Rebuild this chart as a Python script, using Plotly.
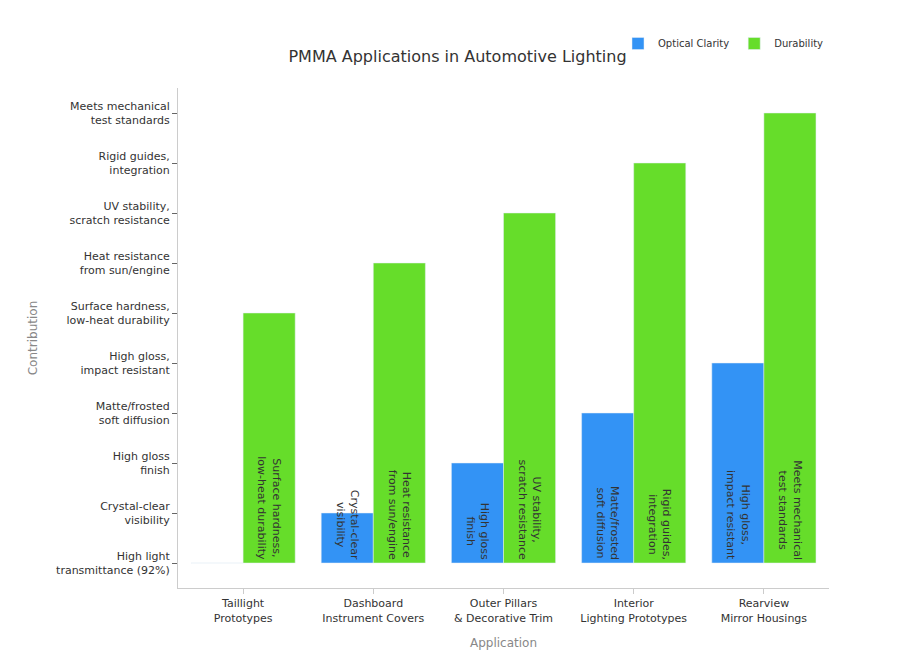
import plotly.graph_objects as go

levels = ["High light<br>transmittance (92%)", "Crystal-clear<br>visibility", "High gloss<br>finish",
          "Matte/frosted<br>soft diffusion", "High gloss,<br>impact resistant", "Surface hardness,<br>low-heat durability",
          "Heat resistance<br>from sun/engine", "UV stability,<br>scratch resistance", "Rigid guides,<br>integration",
          "Meets mechanical<br>test standards"]
apps = ["Taillight<br>Prototypes", "Dashboard<br>Instrument Covers", "Outer Pillars<br>& Decorative Trim",
        "Interior<br>Lighting Prototypes", "Rearview<br>Mirror Housings"]
optical = [levels[0], levels[1], levels[2], levels[3], levels[4]]
durability = [levels[5], levels[6], levels[7], levels[8], levels[9]]

fig = go.Figure()
fig.add_bar(x=apps, y=optical, name="Optical Clarity", marker_color="#3393f5",
            text=optical, textposition="inside", insidetextanchor="start", textangle=90,
            textfont=dict(color="#333", size=11))
fig.add_bar(x=apps, y=durability, name="Durability", marker_color="#66dd2a",
            text=durability, textposition="inside", insidetextanchor="start", textangle=90,
            textfont=dict(color="#333", size=11))
fig.update_layout(
    width=899, height=652, barmode="group", bargap=0.2, bargroupgap=0.0,
    paper_bgcolor="white", plot_bgcolor="white",
    font=dict(family="DejaVu Sans", color="#333", size=11),
    title=dict(text="PMMA Applications in Automotive Lighting", x=0.5, y=0.935, font=dict(size=16)),
    margin=dict(l=170, r=78, t=80, b=70),
    legend=dict(orientation="h", x=1, xanchor="right", y=1.06, yanchor="bottom", font=dict(size=10)),
    xaxis=dict(title=dict(text="Application", font=dict(color="#888", size=12)), showline=True,
               linecolor="#ccc", ticks="outside", tickcolor="#ccc"),
    yaxis=dict(title=dict(text="Contribution", font=dict(color="#888", size=12)), type="category",
               categoryorder="array", categoryarray=levels, showline=True, linecolor="#ccc",
               ticks="outside", tickcolor="#666", showgrid=False, range=[-0.5, 9.5]),
    uniformtext=dict(minsize=7, mode="show"),
)
fig.write_html("out.html")
